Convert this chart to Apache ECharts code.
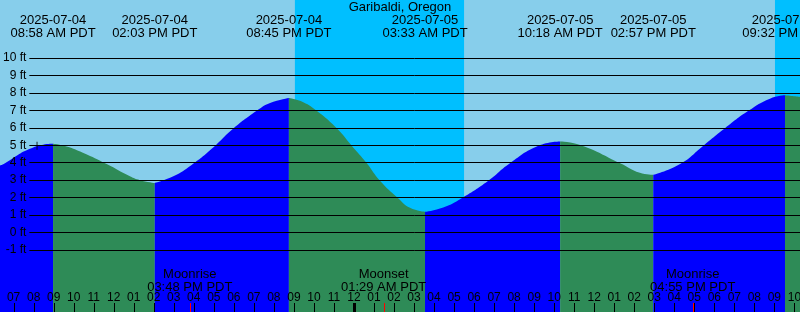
<!DOCTYPE html>
<html>
<head>
<meta charset="utf-8">
<script src="https://cdn.jsdelivr.net/npm/echarts@6/dist/echarts.min.js"></script>
<style>
  html, body { margin: 0; padding: 0; background: #87CEEB; }
  #chart { width: 800px; height: 312px; }
</style>
</head>
<body>
<div id="chart"></div>
<script>
// hours counted from 2025-07-04 00:00 PDT
var tideHours = [6.32, 6.57, 7.17, 7.65, 8.48, 8.97, 9.65, 10.46, 11.65, 12.81, 13.31, 14.05,
  14.98, 15.89, 16.97, 17.89, 19.14, 19.81, 20.75, 21.47, 22.14, 23.14, 23.89, 24.64,
  25.30, 26.21, 26.80, 27.55, 28.46, 29.38, 30.71, 31.79, 33.21, 34.30, 35.37, 37.30,
  38.28, 38.95, 40.29, 41.45, 42.53, 43.70, 44.78, 45.53, 46.28];
var tideFeet = [3.87, 4.00, 4.45, 4.75, 5.06, 5.11, 4.96, 4.60, 3.95, 3.25, 3.03, 2.87,
  3.25, 3.90, 4.90, 5.90, 7.00, 7.45, 7.74, 7.50, 7.00, 6.00, 5.00, 4.00,
  3.00, 2.00, 1.45, 1.22, 1.47, 2.00, 3.00, 4.00, 5.00, 5.25, 5.02, 4.00,
  3.45, 3.33, 3.95, 5.00, 6.00, 7.00, 7.70, 7.89, 7.80];

var eventHours = [8.97, 14.05, 20.75, 27.55, 34.30, 38.95, 45.53];
var eventKinds = ['H', 'L', 'H', 'L', 'H', 'L', 'H'];
var eventDates = ['2025-07-04', '2025-07-04', '2025-07-04', '2025-07-05', '2025-07-05', '2025-07-05', '2025-07-05'];
var eventTimes = ['08:58 AM PDT', '02:03 PM PDT', '08:45 PM PDT', '03:33 AM PDT', '10:18 AM PDT', '02:57 PM PDT', '09:32 PM PDT'];

var moonHours = [15.80, 25.48, 40.92];
var moonNames = ['Moonrise', 'Moonset', 'Moonrise'];
var moonTimes = ['03:48 PM PDT', '01:29 AM PDT', '04:55 PM PDT'];

var nightStarts = [21.05, 45.03];
var nightEnds = [29.50, 46.28];

var hourTicks = [7, 8, 9, 10, 11, 12, 13, 14, 15, 16, 17, 18, 19, 20, 21, 22, 23, 24, 25, 26,
  27, 28, 29, 30, 31, 32, 33, 34, 35, 36, 37, 38, 39, 40, 41, 42, 43, 44, 45, 46];
var hourLabels = ['07', '08', '09', '10', '11', '12', '01', '02', '03', '04', '05', '06', '07', '08', '09', '10', '11', '12', '01', '02',
  '03', '04', '05', '06', '07', '08', '09', '10', '11', '12', '01', '02', '03', '04', '05', '06', '07', '08', '09', '10'];
var midnightHour = 24;

var nowMark = [8.17, 5.0];

var X_MIN = 6.32, X_MAX = 46.28;
var Y_MIN = -4.52, Y_MAX = 13.35;
var FONT = "'Liberation Sans', Arial, sans-serif";
var RISING = '#0000FF', FALLING = '#2E8B57';

var myChart = echarts.init(document.getElementById('chart'));

// water fill, one piece between each pair of high/low tides
var bounds = [X_MIN].concat(eventHours, [X_MAX]);
var waterSeries = [];
for (var k = 0; k < bounds.length - 1; k++) {
  var pts = [];
  for (var i = 0; i < tideHours.length; i++) {
    if (tideHours[i] >= bounds[k] - 1e-6 && tideHours[i] <= bounds[k + 1] + 1e-6) {
      pts.push([tideHours[i], tideFeet[i]]);
    }
  }
  var rising = k < eventKinds.length ? eventKinds[k] === 'H' : eventKinds[k - 1] === 'L';
  waterSeries.push({
    type: 'line',
    xAxisIndex: 0,
    yAxisIndex: 0,
    data: pts,
    smooth: 0.5,
    symbol: 'none',
    silent: true,
    z: 2,
    lineStyle: { width: 0 },
    areaStyle: { color: rising ? RISING : FALLING, opacity: 1, origin: 'start' }
  });
}

var nightAreas = nightStarts.map(function (s, i) {
  return [{ xAxis: s }, { xAxis: nightEnds[i] }];
});

var option = {
  animation: false,
  backgroundColor: '#87CEEB',
  title: {
    text: 'Garibaldi, Oregon',
    left: 'center',
    top: 1,
    padding: 0,
    textStyle: { fontFamily: FONT, fontSize: 13, fontWeight: 'normal', color: '#000' }
  },
  grid: [
    { left: 0, right: 0, top: 0, bottom: 0 },
    { left: 29, right: 0, top: 58, height: 192 }
  ],
  xAxis: [
    { type: 'value', gridIndex: 0, min: X_MIN, max: X_MAX, show: false },
    { type: 'value', gridIndex: 1, min: X_MIN, max: X_MAX, show: false }
  ],
  yAxis: [
    { type: 'value', gridIndex: 0, min: Y_MIN, max: Y_MAX, show: false },
    {
      type: 'value', gridIndex: 1, min: -1, max: 10, interval: 1, z: 5,
      axisLine: { show: false },
      axisTick: { show: false },
      axisLabel: { formatter: '{value} ft', color: '#000', fontFamily: FONT, fontSize: 12, margin: 3 },
      splitLine: { lineStyle: { color: '#000', width: 1 } }
    }
  ],
  series: [
    {
      // night shading
      type: 'line',
      data: [],
      silent: true,
      z: 1,
      markArea: {
        silent: true,
        itemStyle: { color: '#00BFFF', opacity: 1 },
        data: nightAreas
      }
    }
  ].concat(waterSeries, [
    {
      type: 'scatter',
      data: [nowMark],
      symbol: 'rect',
      symbolSize: [1, 8],
      itemStyle: { color: '#000' },
      silent: true,
      z: 6
    },
    {
      // hour ticks and labels along the bottom
      type: 'custom',
      data: hourTicks.map(function (h, i) { return [h, i]; }),
      silent: true,
      z: 6,
      renderItem: function (params, api) {
        var h = api.value(0);
        var p = api.coord([h, Y_MIN]);
        var w = h === midnightHour ? 3 : 1;
        return {
          type: 'group',
          children: [
            { type: 'rect', shape: { x: Math.round(p[0]) - Math.floor(w / 2), y: p[1] - 9, width: w, height: 9 }, style: { fill: '#000' } },
            { type: 'text', x: p[0], y: 298, style: { text: hourLabels[api.value(1)], fill: '#000', font: '12px ' + FONT, align: 'center', verticalAlign: 'middle' } }
          ]
        };
      }
    },
    {
      // moon events
      type: 'custom',
      data: moonHours.map(function (h, i) { return [h, i]; }),
      silent: true,
      z: 7,
      renderItem: function (params, api) {
        var i = api.value(1);
        var p = api.coord([api.value(0), Y_MIN]);
        return {
          type: 'group',
          children: [
            { type: 'rect', shape: { x: Math.round(p[0]), y: p[1] - 9, width: 1, height: 9 }, style: { fill: '#FF0000' } },
            { type: 'text', x: p[0], y: 281, style: { text: moonNames[i] + '\n' + moonTimes[i], fill: '#000', font: '13px ' + FONT, align: 'center', verticalAlign: 'middle', lineHeight: 12.5 } }
          ]
        };
      }
    },
    {
      // high / low tide times at the top
      type: 'custom',
      data: eventHours.map(function (h, i) { return [h, i]; }),
      silent: true,
      z: 7,
      renderItem: function (params, api) {
        var i = api.value(1);
        var p = api.coord([api.value(0), Y_MAX]);
        return {
          type: 'text', x: p[0], y: 27,
          style: { text: eventDates[i] + '\n' + eventTimes[i], fill: '#000', font: '13px ' + FONT, align: 'center', verticalAlign: 'middle', lineHeight: 12.5 }
        };
      }
    }
  ])
};
myChart.setOption(option);
</script>
</body>
</html>
